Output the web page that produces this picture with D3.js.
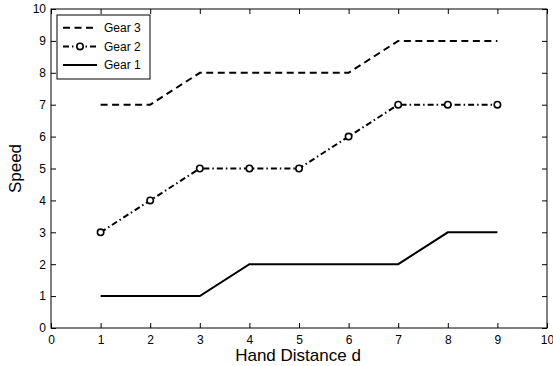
<!DOCTYPE html>
<html>
<head>
<meta charset="utf-8">
<script src="https://cdn.jsdelivr.net/npm/d3@7"></script>
<style>
  body { margin: 0; background: #fff; }
  text { font-family: "Liberation Sans", Arial, sans-serif; }
</style>
</head>
<body>
<script>
// data
var distance = [1, 2, 3, 4, 5, 6, 7, 8, 9];
var gear3 = [7, 7, 8, 8, 8, 8, 9, 9, 9];
var gear2 = [3, 4, 5, 5, 5, 6, 7, 7, 7];
var gear1 = [1, 1, 1, 2, 2, 2, 2, 3, 3];
var ticks = [0, 1, 2, 3, 4, 5, 6, 7, 8, 9, 10];

var width = 553, height = 366;
var pLeft = 51, pRight = 547, pTop = 9, pBottom = 328;

var svg = d3.select("body").append("svg")
    .attr("width", width)
    .attr("height", height);

var x = d3.scaleLinear().domain([0, 10]).range([pLeft, pRight]);
var y = d3.scaleLinear().domain([0, 10]).range([pBottom, pTop]);

// axes with inward ticks, mirrored on top and right
function styleAxis(g) {
  g.select(".domain").remove();
  g.selectAll("line").attr("stroke", "#000").attr("stroke-width", 1);
  g.selectAll("text").attr("font-size", "12px").attr("fill", "#000");
}

svg.append("g")
    .attr("transform", "translate(0," + pBottom + ")")
    .call(d3.axisBottom(x).tickValues(ticks).tickSizeInner(-5).tickSizeOuter(0).tickPadding(7))
    .call(styleAxis);

svg.append("g")
    .attr("transform", "translate(0," + pTop + ")")
    .call(d3.axisTop(x).tickValues(ticks).tickSizeInner(-5).tickSizeOuter(0).tickFormat(""))
    .call(styleAxis);

svg.append("g")
    .attr("transform", "translate(" + pLeft + ",0)")
    .call(d3.axisLeft(y).tickValues(ticks).tickSizeInner(-5).tickSizeOuter(0).tickPadding(5))
    .call(styleAxis);

svg.append("g")
    .attr("transform", "translate(" + pRight + ",0)")
    .call(d3.axisRight(y).tickValues(ticks).tickSizeInner(-5).tickSizeOuter(0).tickFormat(""))
    .call(styleAxis);

// plot box
svg.append("rect")
    .attr("x", pLeft).attr("y", pTop)
    .attr("width", pRight - pLeft).attr("height", pBottom - pTop)
    .attr("fill", "none").attr("stroke", "#000").attr("stroke-width", 1);

var line = d3.line()
    .x(function(d, i) { return x(distance[i]); })
    .y(function(d) { return y(d); });

var series = [
  { name: "Gear 3", values: gear3, dash: "7,4.5", markers: false },
  { name: "Gear 2", values: gear2, dash: "6,3,1.5,3", markers: true },
  { name: "Gear 1", values: gear1, dash: null, markers: false }
];

series.forEach(function(s) {
  svg.append("path")
      .datum(s.values)
      .attr("d", line)
      .attr("fill", "none")
      .attr("stroke", "#000")
      .attr("stroke-width", 2)
      .attr("stroke-dasharray", s.dash);
  if (s.markers) {
    svg.selectAll(null)
      .data(s.values)
      .enter().append("circle")
      .attr("cx", function(d, i) { return x(distance[i]); })
      .attr("cy", function(d) { return y(d); })
      .attr("r", 3.2)
      .attr("fill", "#fff")
      .attr("stroke", "#000")
      .attr("stroke-width", 1.6);
  }
});

// legend
var lg = svg.append("g");
lg.append("rect")
    .attr("x", 57).attr("y", 15)
    .attr("width", 93).attr("height", 64)
    .attr("fill", "#fff").attr("stroke", "#000").attr("stroke-width", 1);

series.forEach(function(s, i) {
  var ly = 27.7 + i * 18.7;
  lg.append("line")
      .attr("x1", 63).attr("x2", 97)
      .attr("y1", ly).attr("y2", ly)
      .attr("stroke", "#000").attr("stroke-width", 2)
      .attr("stroke-dasharray", s.dash);
  if (s.markers) {
    lg.append("circle")
        .attr("cx", 80).attr("cy", ly).attr("r", 3.2)
        .attr("fill", "#fff").attr("stroke", "#000").attr("stroke-width", 1.6);
  }
  lg.append("text")
      .attr("x", 104).attr("y", ly + 4.3)
      .attr("font-size", "12px")
      .text(s.name);
});

// axis labels
svg.append("text")
    .attr("x", (pLeft + pRight) / 2 - 1)
    .attr("y", 361)
    .attr("text-anchor", "middle")
    .attr("font-size", "17px")
    .text("Hand Distance d");

svg.append("text")
    .attr("transform", "translate(20.5," + ((pTop + pBottom) / 2) + ") rotate(-90)")
    .attr("text-anchor", "middle")
    .attr("font-size", "17px")
    .text("Speed");
</script>
</body>
</html>
